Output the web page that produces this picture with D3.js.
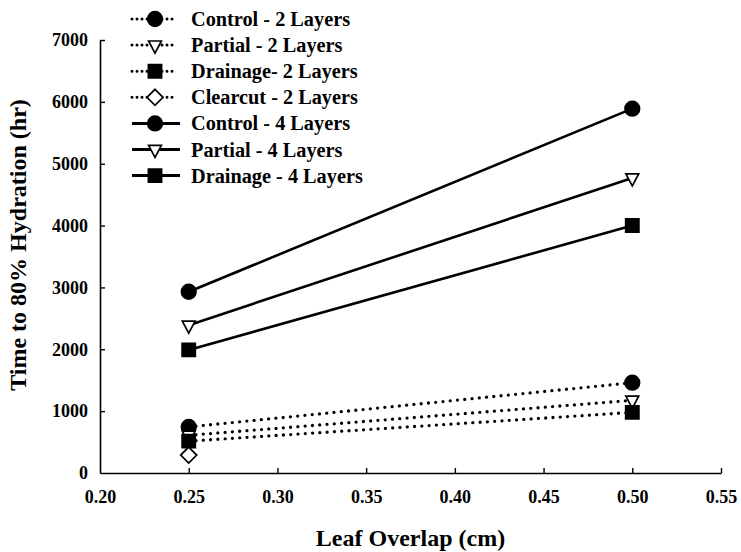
<!DOCTYPE html>
<html>
<head>
<meta charset="utf-8">
<script src="https://cdn.jsdelivr.net/npm/d3@7"></script>
<style>
  html, body { margin: 0; padding: 0; background: #fff; }
  svg { display: block; }
  text { font-family: "Liberation Serif", "Times New Roman", serif; font-weight: bold; fill: #000; }
</style>
</head>
<body>
<svg id="chart" width="741" height="552"></svg>
<script>
// Leaf overlap (cm) at which each treatment was measured
const overlap = [0.25, 0.50];

// Time to 80% hydration (hr) for each treatment
const control2  = [745, 1460];
const partial2  = [610, 1175];
const drainage2 = [515, 980];
const clearcut2 = [290];
const control4  = [2930, 5890];
const partial4  = [2390, 4770];
const drainage4 = [1990, 4000];

const seriesNames = [
  "Control - 2 Layers",
  "Partial - 2 Layers",
  "Drainage- 2 Layers",
  "Clearcut - 2 Layers",
  "Control - 4 Layers",
  "Partial - 4 Layers",
  "Drainage - 4 Layers"
];

const xTicks = [0.20, 0.25, 0.30, 0.35, 0.40, 0.45, 0.50, 0.55];
const yTicks = [0, 1000, 2000, 3000, 4000, 5000, 6000, 7000];

const xTitle = "Leaf Overlap (cm)";
const yTitle = "Time to 80% Hydration (hr)";

// marker shapes
const circleSym = { draw(ctx) { ctx.moveTo(7.3, 0); ctx.arc(0, 0, 7.3, 0, 2 * Math.PI); } };
const squareSym = { draw(ctx) { ctx.rect(-6.6, -6.6, 13.2, 13.2); } };
const triDownSym = { draw(ctx) { ctx.moveTo(-6.4, -4.1); ctx.lineTo(6.4, -4.1); ctx.lineTo(0, 8.0); ctx.closePath(); } };
const diamondSym = { draw(ctx) { ctx.moveTo(0, -8); ctx.lineTo(8, 0); ctx.lineTo(0, 8); ctx.lineTo(-8, 0); ctx.closePath(); } };

const series = [
  { name: seriesNames[0], values: control2,  dotted: true,  sym: circleSym,  fill: "#000" },
  { name: seriesNames[1], values: partial2,  dotted: true,  sym: triDownSym, fill: "#fff" },
  { name: seriesNames[2], values: drainage2, dotted: true,  sym: squareSym,  fill: "#000" },
  { name: seriesNames[3], values: clearcut2, dotted: true,  sym: diamondSym, fill: "#fff" },
  { name: seriesNames[4], values: control4,  dotted: false, sym: circleSym,  fill: "#000" },
  { name: seriesNames[5], values: partial4,  dotted: false, sym: triDownSym, fill: "#fff" },
  { name: seriesNames[6], values: drainage4, dotted: false, sym: squareSym,  fill: "#000" }
];

const svg = d3.select("#chart");
const x = d3.scaleLinear().domain([0.20, 0.55]).range([100, 721]);
const y = d3.scaleLinear().domain([0, 7000]).range([473, 40]);

// axes with inward ticks
const xAxis = svg.append("g")
  .attr("transform", `translate(0,${y(0)})`)
  .call(d3.axisBottom(x).tickValues(xTicks).tickFormat(d3.format(".2f"))
    .tickSizeInner(-5).tickSizeOuter(0).tickPadding(17));
const yAxis = svg.append("g")
  .attr("transform", `translate(${x(0.20)},0)`)
  .call(d3.axisLeft(y).tickValues(yTicks).tickFormat(d3.format("d"))
    .tickSizeInner(-5).tickSizeOuter(0).tickPadding(12));

[xAxis, yAxis].forEach(g => {
  g.attr("font-family", null);
  g.select(".domain").attr("stroke", "#000").attr("stroke-width", 1.6);
  g.selectAll(".tick line").attr("stroke", "#000").attr("stroke-width", 1.4);
  g.selectAll(".tick text").style("font-size", "18px").attr("fill", "#000");
});
// keep the leftmost x tick off the y axis line
xAxis.selectAll(".tick").filter(d => d === 0.20).select("line").remove();
yAxis.selectAll(".tick").filter(d => d === 0).select("line").remove();

// axis titles
svg.append("text")
  .attr("x", (x(0.20) + x(0.55)) / 2).attr("y", 546)
  .attr("text-anchor", "middle").style("font-size", "24px")
  .text(xTitle);
svg.append("text")
  .attr("transform", `translate(26,${245}) rotate(-90)`)
  .attr("text-anchor", "middle").style("font-size", "24px")
  .text(yTitle);

// series lines
const line = d3.line().x((d, i) => x(overlap[i])).y(d => y(d));
const plot = svg.append("g");
series.forEach(s => {
  if (s.values.length < 2) return;
  plot.append("path")
    .attr("d", line(s.values))
    .attr("fill", "none").attr("stroke", "#000")
    .attr("stroke-width", s.dotted ? 3.3 : 2.6)
    .attr("stroke-linecap", s.dotted ? "round" : "butt")
    .attr("stroke-dasharray", s.dotted ? "0,7.3" : null);
});

// series markers
series.forEach(s => {
  plot.selectAll(null)
    .data(s.values)
    .join("path")
    .attr("transform", (d, i) => `translate(${x(overlap[i])},${y(d)})`)
    .attr("d", d3.symbol().type(s.sym))
    .attr("fill", s.fill).attr("stroke", "#000").attr("stroke-width", 1.7);
});

// legend
const legend = svg.append("g");
series.forEach((s, i) => {
  const cy = 19 + i * 26.1;
  const row = legend.append("g").attr("transform", `translate(0,${cy})`);
  row.append("line")
    .attr("x1", 132).attr("x2", s.dotted ? 175 : 180)
    .attr("y1", 0).attr("y2", 0)
    .attr("stroke", "#000")
    .attr("stroke-width", 3)
    .attr("stroke-linecap", s.dotted ? "round" : "butt")
    .attr("stroke-dasharray", s.dotted ? "0,5" : null);
  row.append("path")
    .attr("transform", "translate(155,0)")
    .attr("d", d3.symbol().type(s.sym))
    .attr("fill", s.fill).attr("stroke", "#000").attr("stroke-width", 1.7);
  row.append("text")
    .attr("x", 191).attr("y", 7)
    .style("font-size", "20.3px")
    .text(s.name);
});
</script>
</body>
</html>
